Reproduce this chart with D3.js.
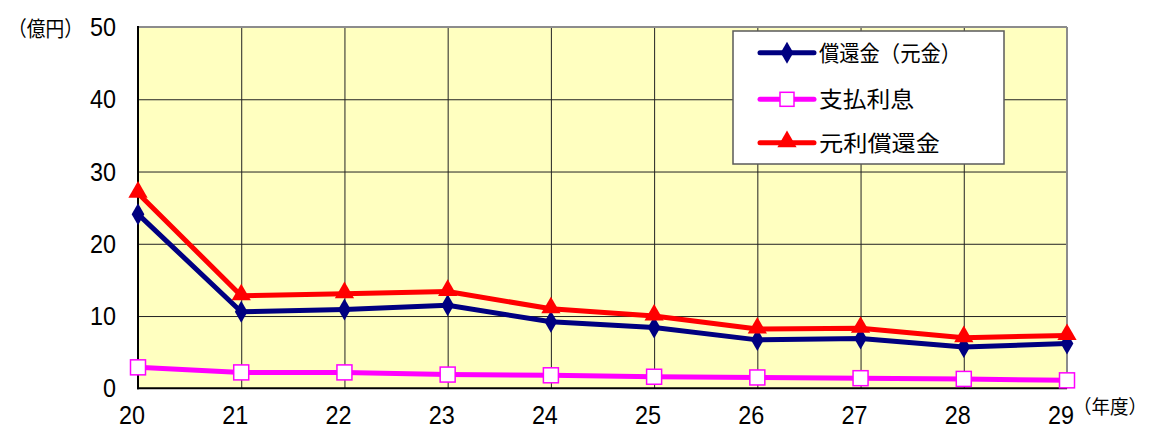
<!DOCTYPE html>
<html lang="ja">
<head>
<meta charset="utf-8">
<script src="https://cdn.jsdelivr.net/npm/d3@7"></script>
<style>
  html, body { margin: 0; padding: 0; background: #ffffff; }
  svg { display: block; }
  .num { font-family: "Liberation Sans", "DejaVu Sans", sans-serif; }
  .jp { font-family: "Noto Sans CJK JP", "Noto Sans", sans-serif; }
</style>
</head>
<body>
<svg id="chart" width="1151" height="429"></svg>
<script>
// 年度（平成）
const years = ["20", "21", "22", "23", "24", "25", "26", "27", "28", "29"];
// 償還金（元金）, 億円
const principal = [24.1, 10.6, 10.9, 11.5, 9.2, 8.4, 6.7, 6.9, 5.7, 6.2];
// 支払利息, 億円
const interest = [2.9, 2.2, 2.2, 1.9, 1.8, 1.6, 1.5, 1.4, 1.3, 1.1];
// 元利償還金, 億円
const total = [27.0, 12.8, 13.1, 13.4, 11.0, 10.0, 8.2, 8.3, 7.0, 7.3];
// y-axis ticks
const yTicks = [0, 10, 20, 30, 40, 50];

const seriesNames = ["償還金（元金）", "支払利息", "元利償還金"];

const svg = d3.select("#chart");
const plotL = 138, plotR = 1067, plotT = 27, plotB = 388.3;

const x = d3.scalePoint().domain(years).range([plotL, plotR]);
const y = d3.scaleLinear().domain([0, 50]).range([plotB, plotT]);

// plot area
svg.append("rect")
  .attr("x", plotL).attr("y", plotT)
  .attr("width", plotR - plotL).attr("height", plotB - plotT)
  .attr("fill", "#FFFFC0");

// gridlines
svg.append("g")
  .attr("transform", `translate(${plotL},0)`)
  .call(d3.axisLeft(y).tickValues(yTicks.filter(v => v > 0 && v < 50))
        .tickSize(-(plotR - plotL)).tickFormat(""))
  .call(g => g.select(".domain").remove())
  .call(g => g.selectAll("line").attr("stroke", "#222").attr("stroke-width", 1));

svg.append("g")
  .attr("transform", `translate(0,${plotB})`)
  .call(d3.axisBottom(x).tickValues(years.slice(1, -1))
        .tickSize(-(plotB - plotT)).tickFormat(""))
  .call(g => g.select(".domain").remove())
  .call(g => g.selectAll("line").attr("stroke", "#222").attr("stroke-width", 1));

// plot border: top & right grey, axes black
svg.append("line").attr("x1", plotL).attr("x2", plotR).attr("y1", plotT).attr("y2", plotT)
  .attr("stroke", "#8c8c8c").attr("stroke-width", 2);
svg.append("line").attr("x1", plotR).attr("x2", plotR).attr("y1", plotT).attr("y2", plotB)
  .attr("stroke", "#8c8c8c").attr("stroke-width", 2);
svg.append("line").attr("x1", plotL).attr("x2", plotL).attr("y1", plotT - 1).attr("y2", plotB + 1)
  .attr("stroke", "#000").attr("stroke-width", 2);
svg.append("line").attr("x1", plotL - 1).attr("x2", plotR).attr("y1", plotB).attr("y2", plotB)
  .attr("stroke", "#000").attr("stroke-width", 2);

// narrow digits, like the condensed UI font
const digitW = 13;

// y tick labels
svg.append("g").selectAll("text").data(yTicks).join("text")
  .attr("class", "num")
  .attr("x", 116).attr("y", d => y(d))
  .attr("dy", "0.36em")
  .attr("text-anchor", "end")
  .attr("font-size", 25)
  .attr("textLength", d => String(d).length * digitW)
  .attr("lengthAdjust", "spacingAndGlyphs")
  .attr("fill", "#000")
  .text(d => d);

// x tick labels
svg.append("g").selectAll("text").data(years).join("text")
  .attr("class", "num")
  .attr("x", d => x(d) - 6).attr("y", 424)
  .attr("text-anchor", "middle")
  .attr("font-size", 25)
  .attr("textLength", d => d.length * digitW)
  .attr("lengthAdjust", "spacingAndGlyphs")
  .attr("fill", "#000")
  .text(d => d);

// unit labels
svg.append("text").attr("class", "jp")
  .attr("x", 8).attr("y", 36)
  .attr("font-size", 21).attr("fill", "#000")
  .attr("textLength", 75).attr("lengthAdjust", "spacingAndGlyphs")
  .text("（億円）");
svg.append("text").attr("class", "jp")
  .attr("x", 1073).attr("y", 414)
  .attr("font-size", 19).attr("fill", "#000")
  .attr("textLength", 74).attr("lengthAdjust", "spacingAndGlyphs")
  .text("（年度）");

const line = d3.line().x((d, i) => x(years[i])).y(d => y(d));

const diamond = d3.symbol().type(d3.symbolDiamond).size(140);
const triangle = d3.symbol().type(d3.symbolTriangle).size(160);

function drawSeries(vals, color, width) {
  svg.append("path").datum(vals)
    .attr("d", line)
    .attr("fill", "none")
    .attr("stroke", color)
    .attr("stroke-width", width)
    .attr("stroke-linejoin", "round");
}

// 償還金（元金）
drawSeries(principal, "#000080", 5);
svg.append("g").selectAll("path").data(principal).join("path")
  .attr("transform", (d, i) => `translate(${x(years[i])},${y(d)})`)
  .attr("d", diamond)
  .attr("fill", "#000080");

// 支払利息
drawSeries(interest, "#FF00FF", 5);
svg.append("g").selectAll("rect").data(interest).join("rect")
  .attr("x", (d, i) => x(years[i]) - 7.5)
  .attr("y", d => y(d) - 7.5)
  .attr("width", 15).attr("height", 15)
  .attr("fill", "#fff")
  .attr("stroke", "#FF00FF").attr("stroke-width", 1.5);

// 元利償還金
drawSeries(total, "#FF0000", 5);
svg.append("g").selectAll("path").data(total).join("path")
  .attr("transform", (d, i) => `translate(${x(years[i])},${y(d) - 1})`)
  .attr("d", triangle)
  .attr("fill", "#FF0000");

// legend
const lg = svg.append("g");
lg.append("rect")
  .attr("x", 733).attr("y", 31).attr("width", 271).attr("height", 133)
  .attr("fill", "#fff").attr("stroke", "#5a5a5a").attr("stroke-width", 1.5);

const rowsY = [52.7, 99.3, 142.7];
const colors = ["#000080", "#FF00FF", "#FF0000"];
const textW = [142, 95, 121];
seriesNames.forEach((name, i) => {
  const cy = rowsY[i];
  lg.append("line")
    .attr("x1", 760).attr("x2", 814).attr("y1", cy).attr("y2", cy)
    .attr("stroke", colors[i]).attr("stroke-width", 5).attr("stroke-linecap", "round");
  if (i === 0) {
    lg.append("path").attr("transform", `translate(787,${cy})`).attr("d", diamond).attr("fill", colors[i]);
  } else if (i === 1) {
    lg.append("rect").attr("x", 780).attr("y", cy - 7).attr("width", 14).attr("height", 14)
      .attr("fill", "#fff").attr("stroke", colors[i]).attr("stroke-width", 1.5);
  } else {
    lg.append("path").attr("transform", `translate(787,${cy - 1})`).attr("d", triangle).attr("fill", colors[i]);
  }
  lg.append("text").attr("class", "jp")
    .attr("x", 819).attr("y", cy).attr("dy", "0.36em")
    .attr("font-size", 22).attr("fill", "#000")
    .attr("textLength", textW[i]).attr("lengthAdjust", "spacingAndGlyphs")
    .text(name);
});
</script>
</body>
</html>
